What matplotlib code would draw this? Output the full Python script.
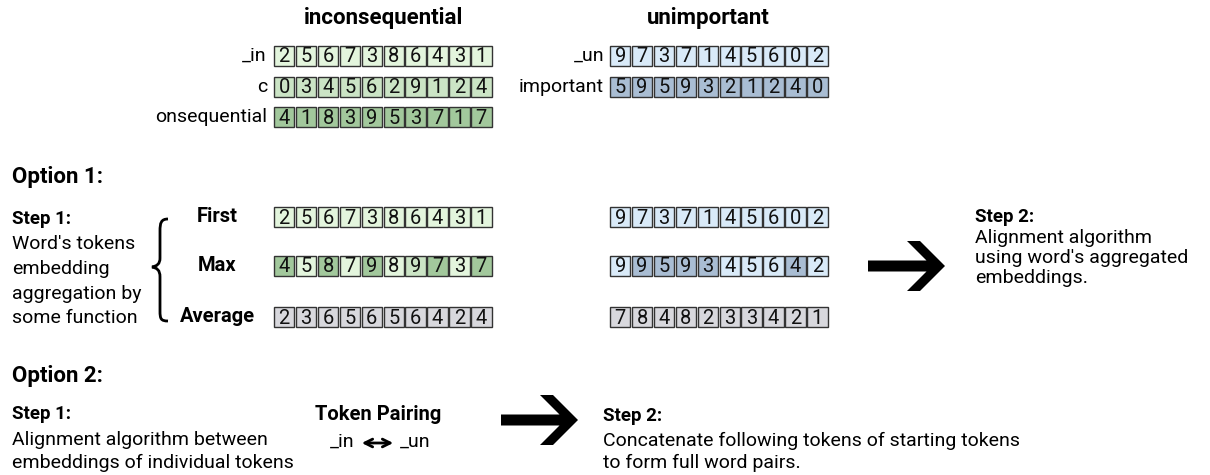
import numpy as np
import matplotlib.pyplot as plt
from matplotlib.patches import Rectangle, Polygon, PathPatch
from matplotlib.path import Path

plt.rcParams['font.family'] = ['Roboto', 'DejaVu Sans']

# token embeddings (toy values)
word1 = 'inconsequential'
word2 = 'unimportant'
tokens1 = ['_in', 'c', 'onsequential']
tokens2 = ['_un', 'important']
emb_in = [2, 5, 6, 7, 3, 8, 6, 4, 3, 1]
emb_c = [0, 3, 4, 5, 6, 2, 9, 1, 2, 4]
emb_onseq = [4, 1, 8, 3, 9, 5, 3, 7, 1, 7]
emb_un = [9, 7, 3, 7, 1, 4, 5, 6, 0, 2]
emb_important = [5, 9, 5, 9, 3, 2, 1, 2, 4, 0]

# aggregated embeddings
agg_names = ['First', 'Max', 'Average']
first1 = [2, 5, 6, 7, 3, 8, 6, 4, 3, 1]
max1 = [4, 5, 8, 7, 9, 8, 9, 7, 3, 7]
avg1 = [2, 3, 6, 5, 6, 5, 6, 4, 2, 4]
first2 = [9, 7, 3, 7, 1, 4, 5, 6, 0, 2]
max2 = [9, 9, 5, 9, 3, 4, 5, 6, 4, 2]
avg2 = [7, 8, 4, 8, 2, 3, 3, 4, 2, 1]

greens = ['#e3f5dd', '#cbe4c5', '#a2c89c']
blues = ['#d9eaf8', '#a9bdd3']
grey = '#d8d8dd'
edge = '#333333'

fig = plt.figure(figsize=(12.1, 4.75), dpi=100)
ax = fig.add_axes([0, 0, 1, 1])
ax.set_xlim(0, 1210)
ax.set_ylim(475, 0)
ax.axis('off')

PITCH = 21.9
CW, CH = 20.4, 20


def draw_row(x0, yc, values, colors):
    for i, v in enumerate(values):
        c = colors[i] if isinstance(colors, list) else colors
        ax.add_patch(Rectangle((x0 + i * PITCH, yc - CH / 2), CW, CH,
                               fc=c, ec=edge, lw=1.0))
        ax.text(x0 + i * PITCH + CW / 2, yc + 1, str(v), ha='center',
                va='center', fontsize=14.5, color='#111111')


def source_colors(rows, pal):
    # colour each max cell like the token it came from
    src = np.argmax(np.array(rows), axis=0)
    return [pal[s] for s in src]


X1, X2 = 274, 610
FS = 14

# --- header: token embeddings
ax.text(X1 + 5 * PITCH, 18, word1, ha='center', va='center', fontsize=16, fontweight='bold')
ax.text(708, 18, word2, ha='center', va='center', fontsize=16, fontweight='bold')
for k, (tok, emb) in enumerate(zip(tokens1, [emb_in, emb_c, emb_onseq])):
    y = 56 + k * 30.5
    ax.text(X1 - 7, y, tok, ha='right', va='center', fontsize=FS)
    draw_row(X1, y, emb, greens[k])
for k, (tok, emb) in enumerate(zip(tokens2, [emb_un, emb_important])):
    y = 56 + k * 30.5
    ax.text(X2 - 6, y, tok, ha='right', va='center', fontsize=FS)
    draw_row(X2, y, emb, blues[k])

# --- option 1
ax.text(12, 177, 'Option 1:', ha='left', va='center', fontsize=16, fontweight='bold')
ax.text(12, 219, 'Step 1:', ha='left', va='center', fontsize=13.5, fontweight='bold')
for k, line in enumerate(["Word's tokens", 'embedding', 'aggregation by', 'some function']):
    ax.text(12, 244 + k * 24.8, line, ha='left', va='center', fontsize=FS)

brace = Path([(168, 219), (161, 219), (160, 223), (160, 231),
              (160, 258),
              (160, 264), (157, 266), (152, 267),
              (157, 268), (160, 270), (160, 277),
              (160, 311),
              (160, 319), (161, 321), (168, 321)],
             [Path.MOVETO, Path.CURVE4, Path.CURVE4, Path.CURVE4,
              Path.LINETO,
              Path.CURVE4, Path.CURVE4, Path.CURVE4,
              Path.CURVE4, Path.CURVE4, Path.CURVE4,
              Path.LINETO,
              Path.CURVE4, Path.CURVE4, Path.CURVE4])
ax.add_patch(PathPatch(brace, fc='none', ec='black', lw=2.0))

row_y = [217, 265.5, 317]
left_rows = [first1, max1, avg1]
right_rows = [first2, max2, avg2]
left_cols = [greens[0], source_colors([emb_in, emb_c, emb_onseq], greens), grey]
right_cols = [blues[0], source_colors([emb_un, emb_important], blues), grey]
for name, y, lv, lc, rv, rc in zip(agg_names, row_y, left_rows, left_cols, right_rows, right_cols):
    ax.text(217, y, name, ha='center', va='center', fontsize=14.5, fontweight='bold')
    draw_row(X1, y, lv, lc)
    draw_row(X2, y, rv, rc)


def big_arrow(x_tip, yc, s=1.0):
    pts = np.array([(-77, -5.5), (-18.5, -5.5), (-38, -25), (-25, -25), (0, 0),
                    (-25, 25), (-38, 25), (-18.5, 5.5), (-77, 5.5)]) * s
    pts[:, 0] += x_tip
    pts[:, 1] += yc
    ax.add_patch(Polygon(pts, closed=True, fc='black', ec='none'))


big_arrow(945, 266)
ax.text(975, 217, 'Step 2:', ha='left', va='center', fontsize=13.5, fontweight='bold')
for k, line in enumerate(['Alignment algorithm', "using word's aggregated", 'embeddings.']):
    ax.text(975, 238 + k * 20, line, ha='left', va='center', fontsize=FS)

# --- option 2
ax.text(12, 376, 'Option 2:', ha='left', va='center', fontsize=16, fontweight='bold')
ax.text(12, 414, 'Step 1:', ha='left', va='center', fontsize=13.5, fontweight='bold')
ax.text(12, 440, 'Alignment algorithm between', ha='left', va='center', fontsize=FS)
ax.text(12, 463, 'embeddings of individual tokens', ha='left', va='center', fontsize=FS)

ax.text(378, 414, 'Token Pairing', ha='center', va='center', fontsize=14.5, fontweight='bold')
ax.text(355, 442, '_in', ha='right', va='center', fontsize=FS)
ax.text(400, 442, '_un', ha='left', va='center', fontsize=FS)
ax.annotate('', xy=(396, 443), xytext=(359, 443),
            arrowprops=dict(arrowstyle='<->', lw=2, color='black', mutation_scale=14))

big_arrow(578, 420)
ax.text(603, 416, 'Step 2:', ha='left', va='center', fontsize=13.5, fontweight='bold')
ax.text(603, 441, 'Concatenate following tokens of starting tokens', ha='left', va='center', fontsize=FS)
ax.text(603, 463, 'to form full word pairs.', ha='left', va='center', fontsize=FS)

fig.savefig('out.png', dpi=100)
